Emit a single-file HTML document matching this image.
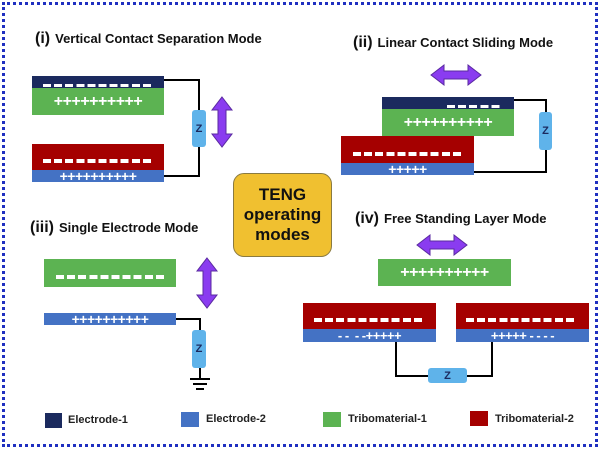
<!DOCTYPE html>
<html><head><meta charset="utf-8"><style>
body{margin:0;width:602px;height:451px;background:#fff;position:relative;overflow:hidden;font-family:"Liberation Sans",sans-serif}
.a{position:absolute;box-sizing:border-box}
.nv{background:#1b2a5e}.gr{background:#5cb352}.rd{background:#a50000}.bl{background:#4472c4}
.d{position:absolute;height:3px;background:repeating-linear-gradient(90deg,#fff 0 8px,transparent 8px 11.1px)}
.t{position:absolute;color:#fff;font-weight:bold;text-align:center;white-space:nowrap;letter-spacing:-0.5px;line-height:1}
.z{position:absolute;background:#5fb3ea;border-radius:3px;font-weight:bold;font-size:11px;color:#1b2a5e;display:flex;align-items:center;justify-content:center}
.ti{position:absolute;font-weight:bold;font-size:13px;color:#111;white-space:nowrap}
.ti b{font-size:16px;margin-right:5px}
.lg{position:absolute;font-weight:bold;font-size:11px;color:#222;white-space:nowrap}
</style></head><body>
<div class="a" style="left:2px;top:2px;width:596px;height:445px;border:3px dotted #1f2fc0"></div>

<svg class="a" style="left:0;top:0" width="602" height="451">
<g fill="none" stroke="#000" stroke-width="2">
<polyline points="164,80 199,80 199,176 164,176"/>
<polyline points="514,100 546,100 546,172 474,172"/>
<polyline points="176,319 200,319 200,378"/>
<polyline points="396,342 396,376 492,376 492,342"/>
</g>
<g stroke="#000" stroke-width="2"><line x1="190" y1="379" x2="210" y2="379"/><line x1="193" y1="384" x2="207" y2="384"/><line x1="196" y1="389" x2="204" y2="389"/></g>
<g fill="#8a3cf0" stroke="#5a2aa0" stroke-width="1">
<polygon points="222,97 232,110 226,110 226,134 232,134 222,147 212,134 218,134 218,110 212,110"/>
<polygon points="207,258 217,271 211,271 211,295 217,295 207,308 197,295 203,295 203,271 197,271"/>
<polygon points="431,75 444,65 444,71 468,71 468,65 481,75 468,85 468,79 444,79 444,85"/>
<polygon points="417,245 430,235 430,241 454,241 454,235 467,245 454,255 454,249 430,249 430,255"/>
</g>
</svg>

<div class="ti" style="left:35px;top:30px"><b>(i)</b>Vertical Contact Separation Mode</div>
<div class="ti" style="left:353px;top:34px"><b>(ii)</b>Linear Contact Sliding Mode</div>
<div class="ti" style="left:30px;top:219px"><b>(iii)</b>Single Electrode Mode</div>
<div class="ti" style="left:355px;top:210px"><b>(iv)</b>Free Standing Layer Mode</div>

<!-- i -->
<div class="a nv" style="left:32px;top:76px;width:132px;height:12px"></div>
<div class="d" style="left:43px;top:84px;width:111px"></div>
<div class="a gr" style="left:32px;top:88px;width:132px;height:27px"></div>
<div class="t" style="left:32px;top:94px;width:132px;font-size:16px">++++++++++</div>
<div class="a rd" style="left:32px;top:144px;width:132px;height:26px"></div>
<div class="d" style="left:43px;top:159px;width:111px;height:4px"></div>
<div class="a bl" style="left:32px;top:170px;width:132px;height:12px"></div>
<div class="t" style="left:32px;top:169px;width:132px;font-size:14px">++++++++++</div>
<div class="z" style="left:192px;top:110px;width:14px;height:37px">Z</div>

<!-- ii -->
<div class="a nv" style="left:382px;top:97px;width:132px;height:12px"></div>
<div class="d" style="left:447px;top:105px;width:53px"></div>
<div class="a gr" style="left:382px;top:109px;width:132px;height:27px"></div>
<div class="t" style="left:382px;top:115px;width:132px;font-size:16px">++++++++++</div>
<div class="a rd" style="left:341px;top:136px;width:133px;height:27px"></div>
<div class="d" style="left:353px;top:152px;width:111px;height:4px"></div>
<div class="a bl" style="left:341px;top:163px;width:133px;height:12px"></div>
<div class="t" style="left:341px;top:162px;width:133px;font-size:14px">+++++</div>
<div class="z" style="left:539px;top:112px;width:13px;height:38px">Z</div>

<!-- TENG -->
<div class="a" style="left:233px;top:173px;width:99px;height:84px;background:#f0c030;border:1.5px solid #8a7a40;border-radius:11px;display:flex;align-items:center;justify-content:center;text-align:center;font-weight:bold;font-size:17px;line-height:20px;color:#111">TENG<br>operating<br>modes</div>

<!-- iii -->
<div class="a gr" style="left:44px;top:259px;width:132px;height:28px"></div>
<div class="d" style="left:56px;top:275px;width:111px;height:4px"></div>
<div class="a bl" style="left:44px;top:313px;width:132px;height:12px"></div>
<div class="t" style="left:44px;top:312px;width:132px;font-size:14px">++++++++++</div>
<div class="z" style="left:192px;top:330px;width:14px;height:38px">Z</div>

<!-- iv -->
<div class="a gr" style="left:378px;top:259px;width:133px;height:27px"></div>
<div class="t" style="left:378px;top:265px;width:133px;font-size:16px">++++++++++</div>
<div class="a rd" style="left:303px;top:303px;width:133px;height:26px"></div>
<div class="d" style="left:314px;top:318px;width:111px;height:4px"></div>
<div class="a bl" style="left:303px;top:329px;width:133px;height:13px"></div>
<div class="t" style="left:303px;top:329px;width:133px;font-size:13px">- -&nbsp; - -+++++</div>
<div class="a rd" style="left:456px;top:303px;width:133px;height:26px"></div>
<div class="d" style="left:466px;top:318px;width:111px;height:4px"></div>
<div class="a bl" style="left:456px;top:329px;width:133px;height:13px"></div>
<div class="t" style="left:456px;top:329px;width:133px;font-size:13px">+++++ - - - -</div>
<div class="z" style="left:428px;top:368px;width:39px;height:15px">Z</div>

<!-- legend -->
<div class="a nv" style="left:45px;top:413px;width:17px;height:15px"></div>
<div class="lg" style="left:68px;top:414px">Electrode-1</div>
<div class="a bl" style="left:181px;top:412px;width:18px;height:15px"></div>
<div class="lg" style="left:206px;top:413px">Electrode-2</div>
<div class="a gr" style="left:323px;top:412px;width:18px;height:15px"></div>
<div class="lg" style="left:348px;top:413px">Tribomaterial-1</div>
<div class="a rd" style="left:470px;top:411px;width:18px;height:15px"></div>
<div class="lg" style="left:495px;top:413px">Tribomaterial-2</div>
</body></html>
